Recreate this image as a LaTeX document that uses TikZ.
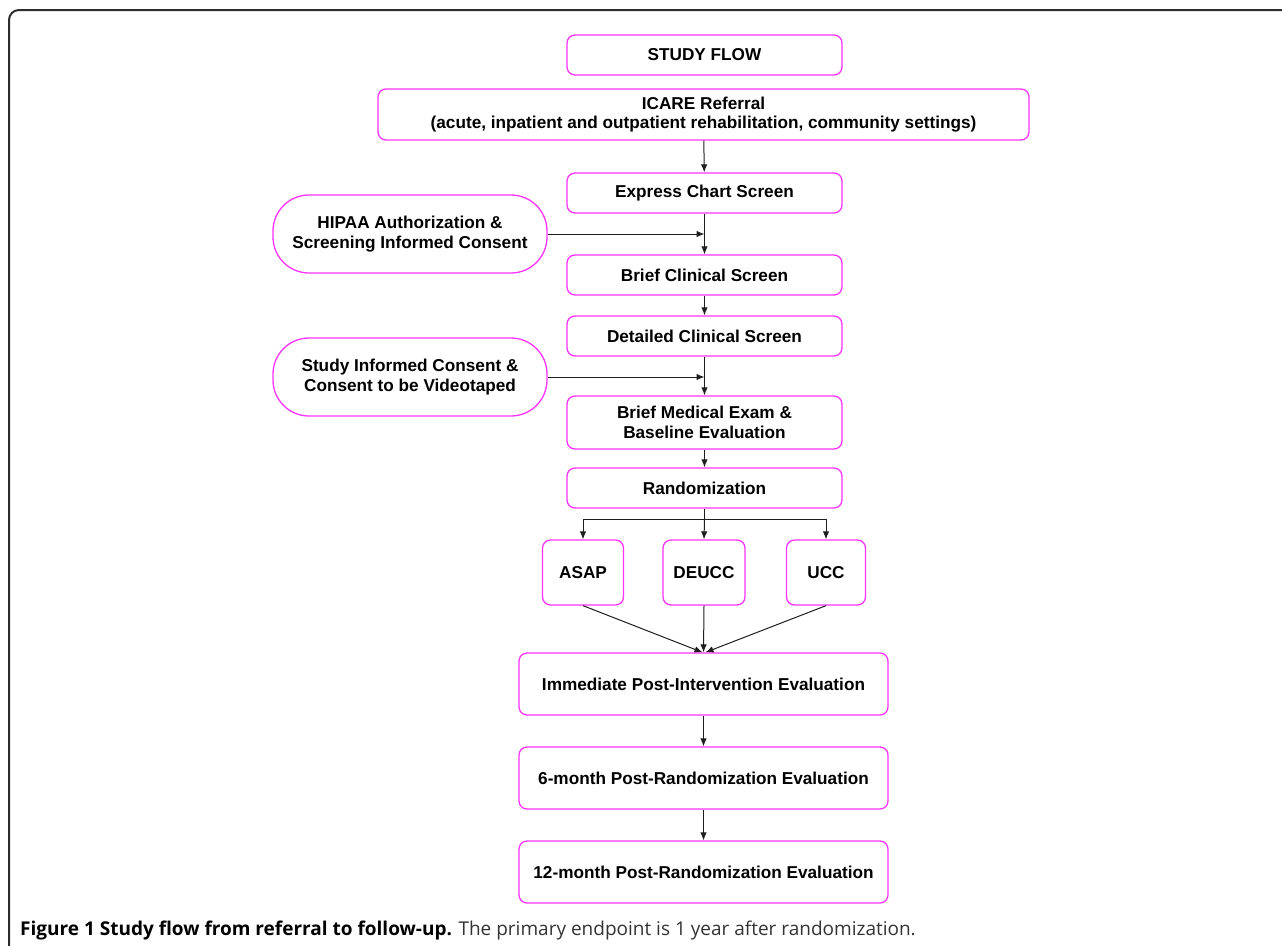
\documentclass[tikz,border=0pt]{standalone}
\usepackage{fontspec}
\setmainfont{Liberation Sans}
\newfontfamily\capfont{Open Sans}
\usepackage{tikz}
\usetikzlibrary{arrows.meta,calc}
\definecolor{boxcolor}{RGB}{255,51,255}
\definecolor{framecolor}{RGB}{45,45,45}
\definecolor{linecolor}{RGB}{30,30,30}

\begin{document}
\begin{tikzpicture}[
    x=1pt, y=-1pt,
    every node/.style={font=\fontsize{17.2}{19.5}\selectfont\bfseries},
    stage/.style={draw=boxcolor, line width=1.3pt, rounded corners=8pt, align=center, inner sep=0pt},
    form/.style={stage, rounded corners=36pt, minimum width=274pt, minimum height=78pt},
    arrow/.style={-{Latex[length=8pt,width=6.5pt]}, line width=1pt, linecolor}
]
\useasboundingbox (0,0) rectangle (1282,945);

% cadre
\draw[framecolor, line width=2pt, rounded corners=10pt] (9,950) -- (9,10) -- (1290,10);

% etapes principales
\node[stage, minimum width=275pt, minimum height=40pt] (flow) at (704.5,55) {STUDY FLOW};
\node[stage, minimum width=651pt, minimum height=51pt] (icare) at (703.5,114.5) {ICARE Referral\\(acute, inpatient and outpatient rehabilitation, community settings)};
\node[stage, minimum width=275pt, minimum height=40pt] (express) at (704.5,193) {Express Chart Screen};
\node[stage, minimum width=275pt, minimum height=40pt] (brief) at (704.5,275) {Brief Clinical Screen};
\node[stage, minimum width=275pt, minimum height=40pt] (detailed) at (704.5,336) {Detailed Clinical Screen};
\node[stage, minimum width=275pt, minimum height=53pt] (medical) at (704.5,422.5) {Brief Medical Exam \&\\Baseline Evaluation};
\node[stage, minimum width=275pt, minimum height=40pt] (random) at (704.5,488) {Randomization};

% consentements (a gauche)
\node[form] (hipaa) at (410,234) {HIPAA Authorization \&\\Screening Informed Consent};
\node[form] (consent) at (410,377) {Study Informed Consent \&\\Consent to be Videotaped};

% bras de l'etude
\node[stage, minimum width=81pt, minimum height=65pt] (asap) at (583,572.5) {ASAP};
\node[stage, minimum width=82pt, minimum height=65pt] (deucc) at (704,572.5) {DEUCC};
\node[stage, minimum width=79pt, minimum height=65pt] (ucc) at (826,572.5) {UCC};

% evaluations
\node[stage, minimum width=369pt, minimum height=62pt] (immediate) at (703.5,684) {Immediate Post-Intervention Evaluation};
\node[stage, minimum width=369pt, minimum height=62pt] (six) at (703.5,778) {6-month Post-Randomization Evaluation};
\node[stage, minimum width=369pt, minimum height=62pt] (twelve) at (703.5,872) {12-month Post-Randomization Evaluation};

% fleches
\draw[arrow] (icare) -- (express);
\draw[arrow] (express) -- (brief);
\draw[arrow] (hipaa.east) -- (hipaa.east -| express.south);
\draw[arrow] (brief) -- (detailed);
\draw[arrow] (detailed) -- (medical);
\draw[arrow] (consent.east) -- (consent.east -| detailed.south);
\draw[arrow] (medical) -- (random);

\coordinate (split) at ($(random.south)+(0,11)$);
\draw[line width=1pt, linecolor] (random.south) -- (split);
\draw[arrow] (split) -| (asap.north);
\draw[arrow] (split) -| (ucc.north);
\draw[arrow] (split) -- (deucc.north);

\draw[arrow] (asap.south) -- ([xshift=-1pt]immediate.north);
\draw[arrow] (deucc.south) -- (immediate.north);
\draw[arrow] (ucc.south) -- ([xshift=2pt]immediate.north);

\draw[arrow] (immediate) -- (six);
\draw[arrow] (six) -- (twelve);

% legende
\node[anchor=base west, inner sep=0pt, font=\capfont\fontsize{19}{22}\selectfont] (caption) at (20,935)
  {\textbf{Figure 1 Study flow from referral to follow-up.} \color{black!80}The primary endpoint is 1 year after randomization.};

\end{tikzpicture}
\end{document}
